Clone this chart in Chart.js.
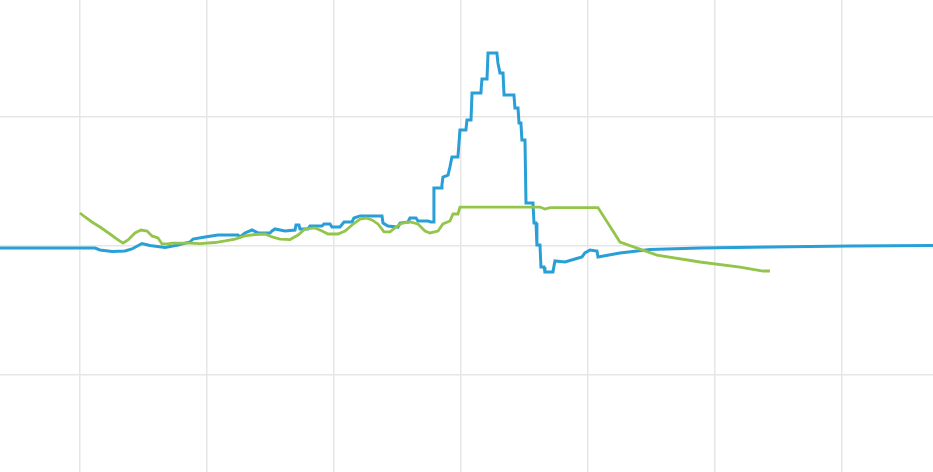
<!DOCTYPE html>
<html>
<head>
<meta charset="utf-8">
<script src="https://cdn.jsdelivr.net/npm/chart.js@4/dist/chart.umd.min.js"></script>
<style>
  html, body { margin: 0; padding: 0; background: #fff; overflow: hidden; }
  #wrap { position: relative; width: 933px; height: 472px; }
</style>
</head>
<body>
<div id="wrap"><canvas id="chart"></canvas></div>
<script>
// blue series (x = time, y = value)
const blueX = [
  -63, 11.8, 15.7, 25.2, 35.4, 40.9, 48.8, 55.1, 66.9, 77.2, 86.6, 89, 98.4, 108.7,
  124.4, 126, 129.9, 135.4, 140.2, 149.6, 151.2, 153.5, 161.4, 169.3, 170.1, 172.4,
  173.2, 179.5, 181.1, 190.6, 192.1, 196.9, 198.4, 204.7, 207.9, 214.2, 215.7, 220.5,
  237.8, 238.6, 242.5, 250.4, 252, 258.3, 259.8, 264.6, 266.1, 274, 276.4, 278,
  278.7, 284.3, 285, 285.8, 289.8, 291.3, 292.9, 297.6, 299.2, 303.9, 304.7, 307.9,
  308.7, 315.7, 316.5, 320.5, 321.3, 328.3, 329.1, 330.7, 333.1, 333.9, 341.7, 342.5,
  344.9, 345.7, 347.2, 348, 350.4, 351.2, 356.7, 357.5, 359.1, 359.8, 362.2, 363,
  365.4, 366.1, 372.4, 374, 381.9, 389.8, 395.3, 397.6, 401.6, 407.1, 407.9, 425.2,
  448.8, 488.2, 543.3, 606.3, 671.7
];
const blueY = [
  -1.6, -1.6, -3.1, -4.3, -3.9, -2.3, 1.9, 0.4, -1.2, 0.8, 3.1, 5.4, 7, 8.5,
  8.5, 7, 10.1, 12.4, 10.1, 10.1, 11.6, 13.2, 11.6, 12.4, 16.3, 16.3,
  13.2, 13.2, 15.5, 15.5, 17.1, 17.1, 14.7, 14.7, 18.6, 18.6, 21.7, 23.3,
  23.3, 17.8, 15.5, 14.7, 17.8, 18.6, 21.7, 21.7, 19.4, 19.4, 18.6, 18.6,
  45, 45, 47.3, 53.5, 55, 61.2, 69, 69, 89.9, 89.9, 97.7, 97.7,
  118.6, 118.6, 129.5, 129.5, 149.6, 149.6, 141.9, 134.1, 134.1, 117.1, 117.1, 107,
  107, 95.3, 95.3, 82.2, 82.2, 33.3, 33.3, 17.8, 17.8, 0.8, 0.8, -16.3,
  -16.3, -20.2, -20.2, -11.6, -12.4, -10.1, -8.5, -5.4, -3.1, -3.9, -8.5, -5.4,
  -2.7, -1.6, -0.8, 0, 0.4
];

// green series
const greenX = [
  0, 3.9, 9.4, 15.7, 23.6, 29.9, 33.9, 37.8, 43.3, 48, 52.8, 56.7, 61.4, 64.6,
  69.3, 72.4, 86.6, 94.5, 106.3, 114.2, 122, 129.9, 137.8, 145.7, 151.2, 157.5,
  165.4, 171.7, 177.2, 185, 190.6, 195.3, 203.1, 208.7, 214.2, 220.5, 225.2, 229.9,
  234.6, 239.4, 244.1, 248, 253.5, 259.8, 266.1, 271.7, 275.6, 281.9, 285.8, 291.3,
  293.7, 297.6, 299.2, 362.2, 366.1, 370.1, 407.9, 425.2, 454.3, 488.2, 519.7,
  537.8, 543.3
];
const greenY = [
  25.6, 22.5, 18.6, 14.7, 9.3, 4.7, 2.3, 4.7, 10.1, 12.4, 11.6, 7.8, 6.2, 1.6,
  1.6, 2.3, 2.3, 1.9, 2.7, 3.9, 5.4, 7.8, 8.9, 9.3, 7, 5.4,
  5, 8.5, 13.2, 14, 11.6, 9.3, 9.3, 11.6, 16.3, 20.9, 21.7, 20.2,
  17.1, 10.9, 10.9, 14, 17.8, 18.6, 17.1, 11.6, 10.1, 11.6, 17.1, 19.4,
  24.8, 24.8, 30.2, 30.2, 28.7, 29.8, 29.8, 3.1, -7, -12.4, -16.3,
  -19.4, -19.4
];

const xMin = -63, xMax = 671.7;
const yMin = -175.2, yMax = 190.7;

const toPoints = (xs, ys) => xs.map((x, i) => ({ x: x, y: ys[i] }));

const ctx = document.getElementById("chart");

new Chart(ctx, {
  type: "line",
  data: {
    datasets: [
      {
        data: toPoints(greenX, greenY),
        borderColor: "#93c54b",
        borderWidth: 2.8,
        pointRadius: 0,
        tension: 0,
        fill: false,
      },
      {
        data: toPoints(blueX, blueY),
        borderColor: "#299fd7",
        borderWidth: 3,
        pointRadius: 0,
        tension: 0,
        fill: false,
      },
    ],
  },
  options: {
    animation: false,
    responsive: true,
    maintainAspectRatio: false,
    layout: { padding: 0 },
    scales: {
      x: {
        type: "linear",
        min: xMin,
        max: xMax,
        ticks: { display: false, stepSize: 100, includeBounds: false },
        grid: { color: "#e6e6e6", lineWidth: 1.5, drawTicks: false },
        border: { display: false },
      },
      y: {
        min: yMin,
        max: yMax,
        ticks: { display: false, stepSize: 100, includeBounds: false },
        grid: { color: "#e6e6e6", lineWidth: 1.5, drawTicks: false },
        border: { display: false },
      },
    },
    plugins: {
      legend: { display: false },
      tooltip: { enabled: false },
    },
  },
});
</script>
</body>
</html>
